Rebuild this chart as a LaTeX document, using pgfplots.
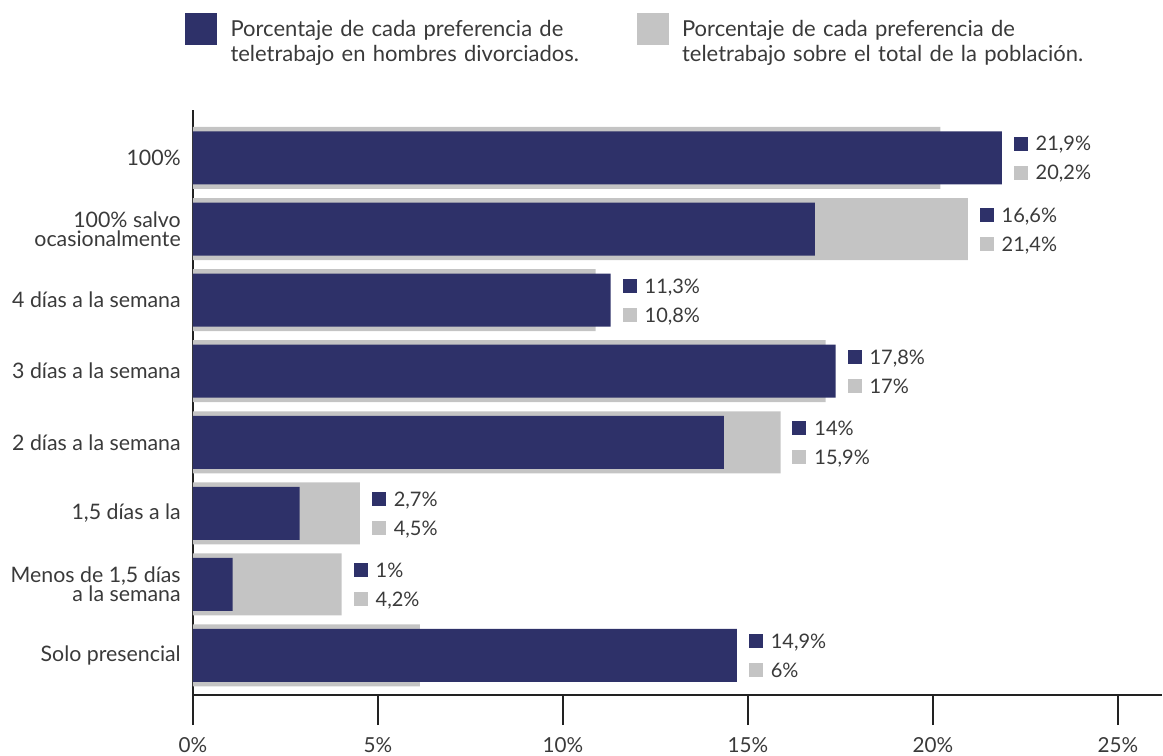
\documentclass[border=0pt]{standalone}
\usepackage{pgfplots}
\pgfplotsset{compat=1.18}
\usepackage{fontspec}
\setmainfont{Lato}
\definecolor{navy}{HTML}{2E3169}
\definecolor{lgrey}{HTML}{C4C4C4}
\definecolor{txt}{HTML}{3A3A3A}
\definecolor{axc}{HTML}{222222}
\begin{document}
\begin{tikzpicture}
\begin{axis}[
  scale only axis,
  width=726.75bp, height=438.75bp,
  xmin=0, xmax=26.19,
  ymin=-0.556, ymax=7.675,
  axis x line=bottom, axis y line=left,
  axis line style={-, line width=2bp, color=axc},
  xtick={0,5,10,15,20,25},
  xticklabel={\pgfmathprintnumber{\tick}\%},
  x tick style={line width=2bp, color=axc},
  major tick length=22.5bp,
  tick align=outside,
  ytick={0,1,2,3,4,5,6,7},
  yticklabels={Solo presencial,{Menos de 1,5 días\\a la semana},{1,5 días a la},{2 días a la semana},{3 días a la semana},{4 días a la semana},{100\% salvo\\ocasionalmente},{100\%}},
  y tick style={draw=none},
  xticklabel style={font=\fontsize{15.5bp}{16bp}\selectfont, text=txt, inner sep=0pt, yshift=-9bp},
  yticklabel style={font=\fontsize{16bp}{14.5bp}\selectfont, text=txt, align=right, inner sep=0pt, xshift=13.5bp},
  /pgf/number format/assume math mode=true,
  /pgf/number format/use comma,
  clip=false,
  legend columns=2,
  legend style={at={(-0.00826,1.1658)}, anchor=north west, draw=none, fill=none,
    inner sep=0pt, outer sep=0pt, column sep=0pt,
    font=\fontsize{16.5bp}{18.75bp}\selectfont, text=txt,
    cells={anchor=west},
    nodes={inner sep=0pt, text width=304.5bp, align=left}},
]
\addlegendimage{legend image code/.code={\fill[navy] (0bp,-11.25bp) rectangle (23.25bp,12bp); \path (0bp,0bp) (33.75bp,0bp);}}
\addlegendentry{Porcentaje de cada preferencia de\\teletrabajo en hombres divorciados.}
\addlegendimage{legend image code/.code={\fill[lgrey] (0bp,-11.25bp) rectangle (23.25bp,12bp); \path (0bp,0bp) (33.75bp,0bp);}}
\addlegendentry{Porcentaje de cada preferencia de\\teletrabajo sobre el total de la población.}

% bar lengths as drawn in the reference
\addplot[xbar, bar width=46.5bp, bar shift=0pt, fill=lgrey, draw=none, forget plot]
  coordinates {(20.20,7) (20.94,6) (10.88,5) (17.10,4) (15.88,3) (4.51,2) (4.02,1) (6.13,0)};
\addplot[xbar, bar width=39.75bp, bar shift=0pt, fill=navy, draw=none, forget plot]
  coordinates {(21.86,7) (16.81,6) (11.29,5) (17.37,4) (14.35,3) (2.88,2) (1.07,1) (14.70,0)};

% value labels (printed values)
\addplot[draw=none, mark=none, forget plot, point meta=explicit,
  nodes near coords={\textcolor{navy}{\rule{10.5bp}{10.5bp}}\hspace{6bp}\pgfmathprintnumber{\pgfplotspointmeta}\%},
  every node near coord/.append style={anchor=base west, inner sep=0pt, xshift=8.75bp, yshift=5.25bp, font=\fontsize{15bp}{18bp}\selectfont, text=txt}]
  coordinates {(21.86,7) [21.9] (20.94,6) [16.6] (11.29,5) [11.3] (17.37,4) [17.8] (15.88,3) [14] (4.51,2) [2.7] (4.02,1) [1] (14.70,0) [14.9]};
\addplot[draw=none, mark=none, forget plot, point meta=explicit,
  nodes near coords={\textcolor{lgrey}{\rule{10.5bp}{10.5bp}}\hspace{6bp}\pgfmathprintnumber{\pgfplotspointmeta}\%},
  every node near coord/.append style={anchor=base west, inner sep=0pt, xshift=8.75bp, yshift=-16.5bp, font=\fontsize{15bp}{18bp}\selectfont, text=txt}]
  coordinates {(21.86,7) [20.2] (20.94,6) [21.4] (11.29,5) [10.8] (17.37,4) [17] (15.88,3) [15.9] (4.51,2) [4.5] (4.02,1) [4.2] (14.70,0) [6]};

\coordinate (bbl) at (rel axis cs:-0.19917,-0.10427);
\coordinate (btr) at (rel axis cs:1.00103,1.18803);
\end{axis}
\pgfresetboundingbox
\path[use as bounding box] (bbl) rectangle (btr);
\end{tikzpicture}
\end{document}
